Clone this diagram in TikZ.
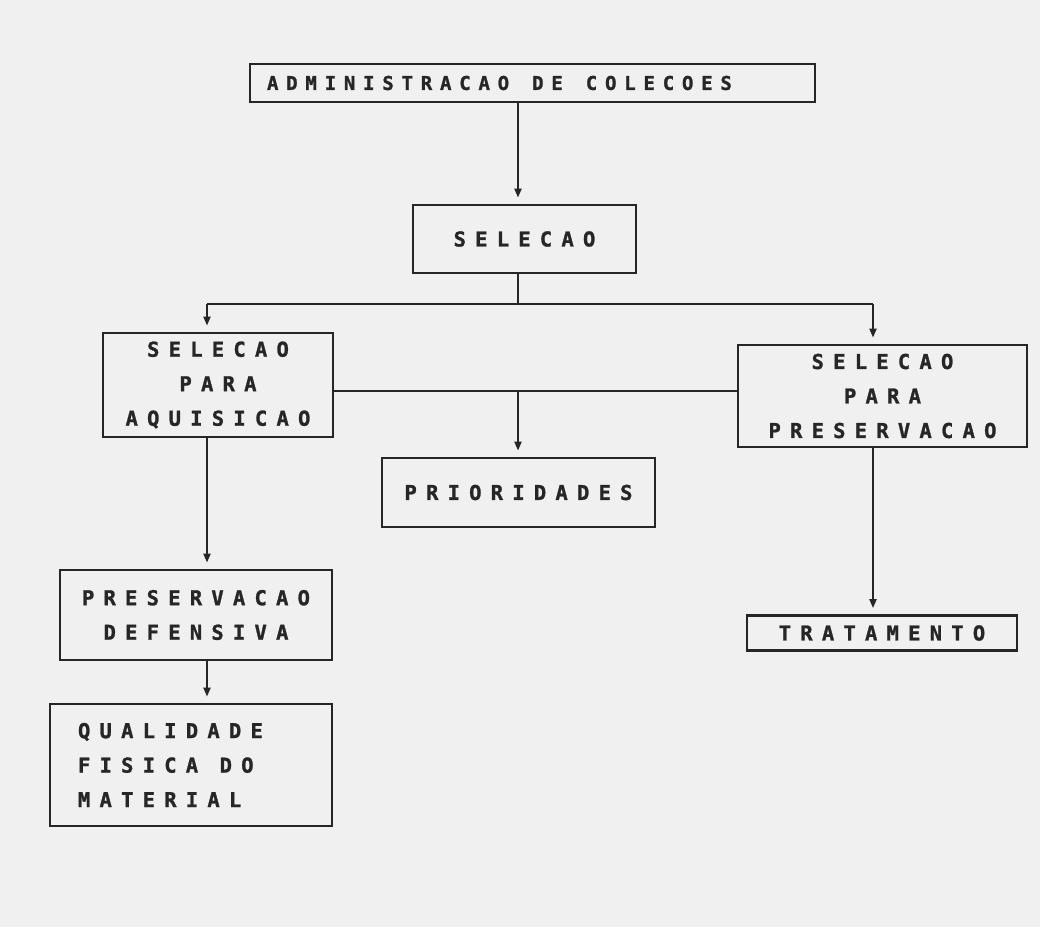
\documentclass[tikz,border=0pt]{standalone}
\usepackage{fontspec}
\usetikzlibrary{arrows.meta}
\newfontfamily\dmtitle[LetterSpace=41,FakeBold=1.2]{DejaVu Sans Mono}
\newfontfamily\dmbox[LetterSpace=45,FakeBold=1.2]{DejaVu Sans Mono}
\definecolor{paper}{RGB}{240,240,240}
\definecolor{ink}{RGB}{38,38,38}
\tikzset{
  boxstyle/.style={draw=ink, line width=2.8pt, text=ink, inner sep=0pt, align=center,
    font=\dmbox\bfseries\fontsize{20.5}{34.5}\selectfont},
  conn/.style={draw=ink, line width=2pt},
  arr/.style={conn, -{Triangle[length=9pt,width=7pt]}, shorten >=6pt},
}
\begin{document}
\begin{tikzpicture}[x=1pt,y=-1pt]
\useasboundingbox[fill=paper] (0,0) rectangle (1040,927);
% boxes
\node[boxstyle, font=\dmtitle\bfseries\fontsize{19}{24}\selectfont, text width=531pt, align=left,
  inner xsep=17pt, minimum height=38pt] (adm) at (532.5,83)
  {ADMINISTRACAO\hspace{23pt}DE\hspace{23pt}COLECOES};
\node[boxstyle, minimum width=223pt, minimum height=68pt] (sel) at (524.5,239) {SELECAO};
\node[boxstyle, minimum width=230pt, minimum height=104pt] (aq) at (218,385) {SELECAO\\PARA\\AQUISICAO};
\node[boxstyle, minimum width=289pt, minimum height=102pt] (pres) at (882.5,396) {SELECAO\\PARA\\PRESERVACAO};
\node[boxstyle, minimum width=273pt, minimum height=69pt] (pri) at (518.5,492.5) {PRIORIDADES};
\node[boxstyle, minimum width=272pt, minimum height=90pt] (def) at (196,615) {PRESERVACAO\\DEFENSIVA};
\node[boxstyle, text width=226pt, align=left, inner xsep=28pt, minimum height=122pt] (qual) at (191,765)
  {QUALIDADE\\FISICA\hspace{21.5pt}DO\\MATERIAL};
\node[boxstyle, minimum width=270pt, minimum height=35pt] (trat) at (882,633) {TRATAMENTO};
% junction coordinates
\coordinate (xm) at (518,0);
\coordinate (jl) at (207,304);
\coordinate (j1) at (518,304);
\coordinate (jr) at (873,304);
\coordinate (j2) at (518,391);
% connectors
\draw[arr] (adm.south -| xm) -- (sel.north -| xm);
\draw[conn] (sel.south -| j1) -- (j1);
\draw[conn] (jl) -- (jr);
\draw[arr] (jl) -- (aq.north -| jl);
\draw[arr] (jr) -- (pres.north -| jr);
\draw[conn] (aq.east |- j2) -- (pres.west |- j2);
\draw[arr] (j2) -- (pri.north -| j2);
\draw[arr] (aq.south -| jl) -- (def.north -| jl);
\draw[arr] (def.south -| jl) -- (qual.north -| jl);
\draw[arr] (pres.south -| jr) -- (trat.north -| jr);
\end{tikzpicture}
\end{document}
